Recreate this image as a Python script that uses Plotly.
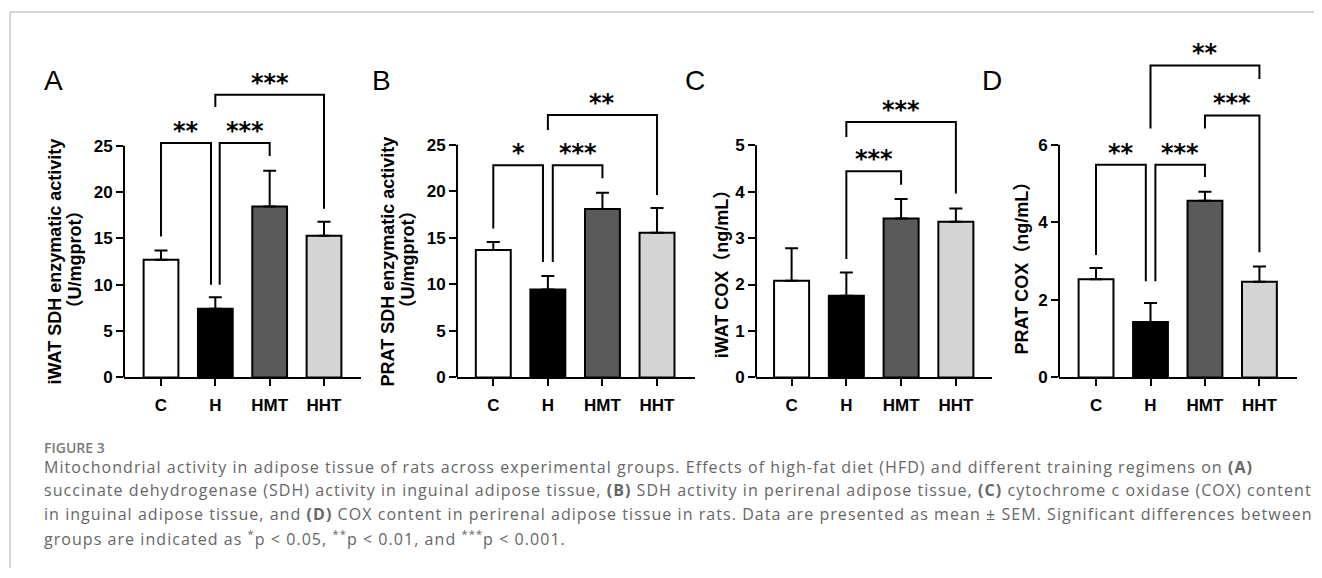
import plotly.graph_objects as go

OFF = 8                       # page body margin in the browser
W, H = 1322 - OFF, 578 - OFF

groups = ["C", "H", "HMT", "HHT"]
bar_colors = ["#ffffff", "#000000", "#5a5a5a", "#d4d4d4"]

# Panel A: iWAT SDH enzymatic activity (U/mgprot)
a_mean = [12.7, 7.4, 18.45, 15.3]
a_sem = [1.0, 1.26, 3.85, 1.5]
# Panel B: PRAT SDH enzymatic activity (U/mgprot)
b_mean = [13.7, 9.44, 18.1, 15.55]
b_sem = [0.86, 1.46, 1.76, 2.65]
# Panel C: iWAT COX (ng/mL)
c_mean = [2.08, 1.76, 3.42, 3.35]
c_sem = [0.70, 0.50, 0.42, 0.29]
# Panel D: PRAT COX (ng/mL)
d_mean = [2.53, 1.43, 4.56, 2.47]
d_sem = [0.29, 0.49, 0.23, 0.39]

a_ticks = [0, 5, 10, 15, 20, 25]
b_ticks = [0, 5, 10, 15, 20, 25]
c_ticks = [0, 1, 2, 3, 4, 5]
d_ticks = [0, 2, 4, 6]

# brackets: (x left, x right, top, left leg bottom, right leg bottom, label)
a_brackets = [(0, 0.92, 25.3, 15.2, 10.0, "**"),
              (1.08, 2, 25.3, 10.0, 23.9, "***"),
              (1, 3, 30.5, 29.2, 18.2, "***")]
b_brackets = [(0, 0.91, 22.8, 16.0, 12.4, "*"),
              (1.09, 2, 22.8, 12.4, 21.4, "***"),
              (1, 3, 28.2, 26.6, 19.6, "**")]
c_brackets = [(1, 2, 4.44, 2.55, 4.15, "***"),
              (1, 3, 5.5, 5.18, 3.96, "***")]
d_brackets = [(0, 0.914, 5.49, 3.16, 2.48, "**"),
              (1.09, 2, 5.49, 2.48, 5.17, "***"),
              (2, 3, 6.76, 6.42, 3.23, "***"),
              (1, 3, 8.05, 6.42, 7.7, "**")]

panels = [
    dict(mean=a_mean, sem=a_sem, ticks=a_ticks, brackets=a_brackets, x0=124, x1=361,
         ymax=36.48, top=25, xr=[-0.681, 3.681], letter="A", lx=53,
         titles=[("iWAT SDH enzymatic activity", 55, 266), ("（U/mgprot）", 75, 264)]),
    dict(mean=b_mean, sem=b_sem, ticks=b_ticks, brackets=b_brackets, x0=457, x1=695,
         ymax=36.33, top=25, xr=[-0.665, 3.696], letter="B", lx=381,
         titles=[("PRAT SDH enzymatic activity", 388, 266), ("（U/mgprot）", 408, 264)]),
    dict(mean=c_mean, sem=c_sem, ticks=c_ticks, brackets=c_brackets, x0=756, x1=992,
         ymax=7.279, top=5, xr=[-0.65, 3.66], letter="C", lx=695,
         titles=[("iWAT COX（ng/mL）", 722, 274)]),
    dict(mean=d_mean, sem=d_sem, ticks=d_ticks, brackets=d_brackets, x0=1059, x1=1297,
         ymax=8.72, top=6, xr=[-0.68, 3.69], letter="D", lx=992,
         titles=[("PRAT COX（ng/mL）", 1022, 268)]),
]

Y0, YT = 384, 40

def px(x):
    return (x - OFF) / W

def py(y):
    return 1 - (y - OFF) / H

fig = go.Figure()
shapes = []
annotations = []
axis_font = dict(family="Arial, Liberation Sans, sans-serif", size=17, color="black", weight=700)

for i, p in enumerate(panels):
    n = "" if i == 0 else str(i + 1)
    xa, ya = "x" + n, "y" + n
    fig.add_trace(go.Bar(
        x=groups, y=p["mean"], xaxis=xa, yaxis=ya, width=0.64,
        marker=dict(color=bar_colors, line=dict(color="black", width=2)),
        error_y=dict(type="data", symmetric=False, array=p["sem"],
                     arrayminus=[0] * 4, color="black", thickness=2, width=6.5),
        showlegend=False, hoverinfo="skip"))
    fig.layout["xaxis" + n] = dict(
        domain=[px(p["x0"]), px(p["x1"])], anchor=ya, type="category",
        categoryorder="array", categoryarray=groups, range=p["xr"],
        showline=True, linecolor="black", linewidth=2, ticks="outside",
        ticklen=7, tickwidth=2, tickcolor="black", showgrid=False,
        tickfont=axis_font, zeroline=False, fixedrange=True, ticklabelstandoff=4)
    fig.layout["yaxis" + n] = dict(
        domain=[py(Y0), py(YT)], anchor=xa, range=[0, p["ymax"]],
        tickvals=p["ticks"], ticks="outside", ticklen=7, tickwidth=2,
        tickcolor="black", showline=False, showgrid=False, zeroline=False,
        tickfont=axis_font, fixedrange=True)
    # y axis line up to the last tick
    shapes.append(dict(type="line", xref=xa + " domain", yref=ya, x0=0, x1=0,
                       y0=0, y1=p["top"], line=dict(color="black", width=2)))
    for (xl, xr_, top, bl, br, lab) in p["brackets"]:
        shapes.append(dict(type="path", xref=xa, yref=ya,
                           path=f"M {xl},{bl} L {xl},{top} L {xr_},{top} L {xr_},{br}",
                           line=dict(color="black", width=2)))
        annotations.append(dict(xref=xa, yref=ya, x=(xl + xr_) / 2, y=top,
                                text=lab, showarrow=False, yanchor="bottom", yshift=-4,
                                font=dict(family="DejaVu Sans", size=24, color="black", weight=700)))
    annotations.append(dict(xref="paper", yref="paper", x=px(p["lx"]), y=py(82),
                            text=p["letter"], showarrow=False, xanchor="center", yanchor="middle",
                            font=dict(family="Arial, Liberation Sans, sans-serif", size=28, color="black")))
    for (t, tx, ty) in p["titles"]:
        annotations.append(dict(xref="paper", yref="paper", x=px(tx), y=py(ty),
                                text=t, showarrow=False, textangle=-90,
                                xanchor="center", yanchor="middle",
                                font=dict(family="Arial, Liberation Sans, Noto Sans CJK SC, sans-serif",
                                          size=18, color="black", weight=700)))

# frame
shapes.append(dict(type="line", xref="paper", yref="paper", x0=px(10), x1=1, y0=py(12), y1=py(12),
                   line=dict(color="#c8c8c8", width=1.5)))
shapes.append(dict(type="line", xref="paper", yref="paper", x0=px(10), x1=px(10), y0=py(12), y1=0,
                   line=dict(color="#c8c8c8", width=1.5)))

caption_title = "FIGURE 3"
caption_lines = [
    "Mitochondrial activity in adipose tissue of rats across experimental groups. Effects of high-fat diet (HFD) and different training regimens on <b>(A)</b>",
    "succinate dehydrogenase (SDH) activity in inguinal adipose tissue, <b>(B)</b> SDH activity in perirenal adipose tissue, <b>(C)</b> cytochrome c oxidase (COX) content",
    "in inguinal adipose tissue, and <b>(D)</b> COX content in perirenal adipose tissue in rats. Data are presented as mean ± SEM. Significant differences between",
    "groups are indicated as <sup>*</sup>p &lt; 0.05, <sup>**</sup>p &lt; 0.01, and <sup>***</sup>p &lt; 0.001.",
]
annotations.append(dict(xref="paper", yref="paper", x=px(42), y=py(455), text=caption_title,
                        showarrow=False, xanchor="left", yanchor="middle",
                        font=dict(family="Open Sans", size=14, color="#7a7a7a", weight=600)))
for k, line in enumerate(caption_lines):
    annotations.append(dict(xref="paper", yref="paper", x=px(42), y=py(475 + 24 * k),
                            text='<span style="letter-spacing:1.05px">' + line + "</span>",
                            showarrow=False, xanchor="left", yanchor="middle",
                            font=dict(family="Open Sans", size=16, color="#666666")))

fig.update_layout(width=W, height=H, margin=dict(l=0, r=0, t=0, b=0),
                  paper_bgcolor="white", plot_bgcolor="white",
                  shapes=shapes, annotations=annotations, bargap=0.36)

fig.write_html("out.html")
